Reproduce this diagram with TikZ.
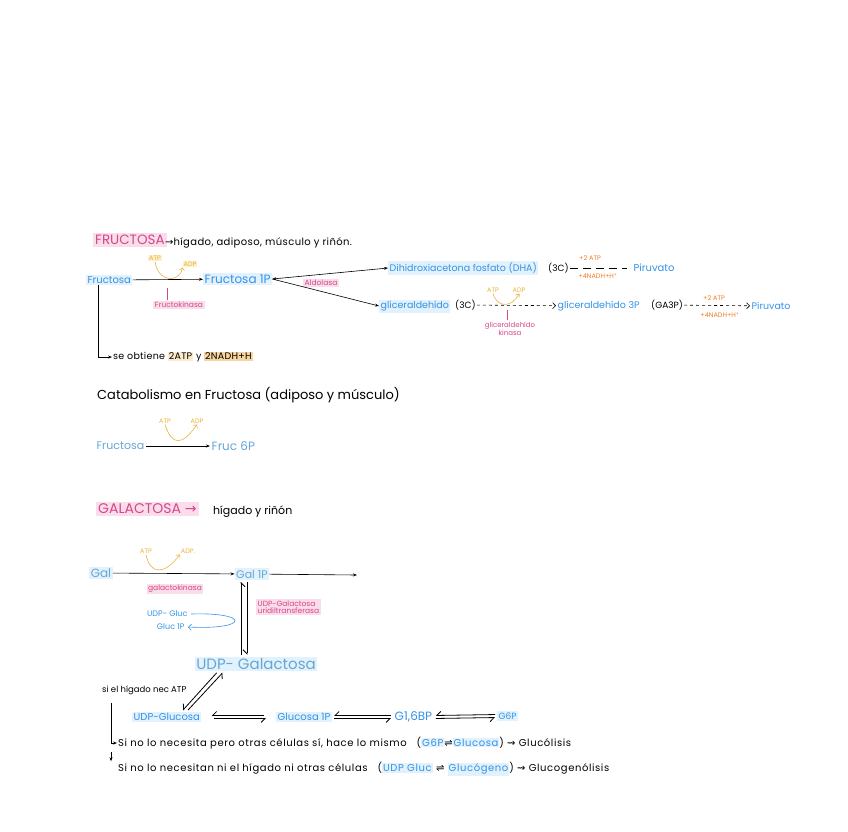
\documentclass[tikz,border=0pt]{standalone}
\usepackage{fontspec}
\setmainfont{Poppins}
\newfontfamily\symfont{DejaVu Sans}
\usetikzlibrary{positioning,arrows.meta}

\definecolor{hblue}{RGB}{52,146,232}
\definecolor{hsoft}{RGB}{102,166,214}
\definecolor{hlblue}{RGB}{226,242,252}
\definecolor{hpink}{RGB}{214,70,138}
\definecolor{hlpink}{RGB}{250,221,234}
\definecolor{hyel}{RGB}{232,180,60}
\definecolor{hlyel}{RGB}{253,240,205}
\definecolor{horan}{RGB}{244,122,32}
\definecolor{hlorl}{RGB}{252,234,204}
\definecolor{hlorg}{RGB}{248,212,160}

\newcommand{\fsz}[1]{\fontsize{#1}{#1}\selectfont}
\newcommand{\hlbox}[2]{{\setlength{\fboxsep}{1pt}\colorbox{#1}{#2}}}
\newcommand{\bluehl}[1]{\hlbox{hlblue}{\textcolor{hblue}{#1}}}

\begin{document}
\begin{tikzpicture}[
  x=1pt, y=-1pt,
  font=\fsz{9},
  met/.style={text=hblue, fill=hlblue, inner sep=1.5pt, font=\fsz{9.5}},
  soft/.style={text=hsoft, inner sep=1.5pt},
  enz/.style={text=hpink, fill=hlpink, inner sep=1.5pt, font=\fsz{7.5}},
  cof/.style={text=hyel, inner sep=1pt, font=\fsz{6.5}},
  gain/.style={text=horan, inner sep=0.5pt, font=\fsz{6.5}},
  note/.style={text=black, inner sep=1pt},
  wide/.style={font=\fsz{10}\addfontfeature{LetterSpace=6}},
  arr/.style={-{Stealth[length=4pt]}, semithick},
  biarr/.style={{Stealth[length=4pt]}-{Stealth[length=4pt]}, semithick},
  darr/.style={dashed, -{Straight Barb[length=3pt]}, semithick},
  cofarr/.style={hyel, semithick, -{Straight Barb[length=2.5pt]}},
  bluearr/.style={hblue, semithick, -{Straight Barb[length=3pt]}},
  harp/.style={-{Straight Barb[right,length=4pt]}, thick, shorten >=2pt, shorten <=2pt}
]
  \useasboundingbox (0,0) rectangle (848,831);

  % fructosa
  \node[enz, font=\fsz{13.5}, inner sep=2pt, anchor=west] (frutitle) at (93,240) {FRUCTOSA};
  \node[note, anchor=west, font=\fsz{10}\addfontfeature{LetterSpace=4}] (fruorg) at (164,243) {{\symfont →}hígado, adiposo, músculo y riñón.};

  \node[met, font=\fsz{10}, anchor=west] (fru) at (86,280) {Fructosa};
  \node[met, font=\fsz{12}, anchor=west] (fru1p) at (203,279) {Fructosa 1P};
  \node[cof, fill=hlyel] (atp1) at (155,258) {ATP};
  \node[cof, fill=hlyel] (adp1) at (190,264) {ADP};
  \node[enz] (fkin) at (179,305) {Fructokinasa};
  \node[enz] (aldol) at (321,283) {Aldolasa};
  \node[met, anchor=west] (dhap) at (388,268) {Dihidroxiacetona fosfato (DHA)};
  \node[note, anchor=west] (c3a) at (547,268) {(3C)};
  \node[met, fill=none, font=\fsz{10}, anchor=west] (pir1) at (632,268) {Piruvato};
  \node[gain] (atp2a) at (590,258) {+2 ATP};
  \node[gain] (nad1) at (598,276) {+4NADH+H\textsuperscript{+}};

  \node[met, anchor=west] (glic) at (379,306) {gliceraldehído};
  \node[note, anchor=west] (c3b) at (454,305) {(3C)};
  \node[cof] (atp3) at (493,290) {ATP};
  \node[cof] (adp3) at (519,290) {ADP};
  \node[enz, fill=none, align=center, font=\fsz{7}] (gkin) at (510,329) {gliceraldehído\\kinasa};
  \node[met, fill=none, anchor=west] (ga3p) at (556,306) {gliceraldehído 3P};
  \node[note, anchor=west] (ga3pab) at (650,305) {(GA3P)};
  \node[gain] (atp2b) at (714,298) {+2 ATP};
  \node[gain] (nad2) at (720,315) {+4NADH+H\textsuperscript{+}};
  \node[met, fill=none, anchor=west] (pir2) at (750,306) {Piruvato};

  \node[note, anchor=west, font=\fsz{9.5}\addfontfeature{LetterSpace=3}] (obt) at (112,357) {se obtiene \hlbox{hlorl}{2ATP} y \hlbox{hlorg}{2NADH+H}};

  \coordinate (fktick) at (167,288);
  \coordinate (gktick) at (507,310);

  \draw[arr] (fru) -- (fru1p);
  \draw[cofarr] (atp1.south) .. controls (158,283) and (180,283) .. (adp1.south west);
  \draw[hpink, semithick] (fktick) -- (fktick |- fkin.north);
  \draw[biarr] (fru1p.east) -- (dhap.west);
  \draw[arr] (fru1p.east) -- (glic.west);
  \draw[dash pattern=on 8pt off 5pt, semithick, shorten >=5pt] (c3a) -- (pir1);
  \draw[darr] (c3b) -- (ga3p);
  \draw[cofarr] (atp3.south) .. controls (497,308) and (512,308) .. (adp3.south);
  \draw[hpink, semithick] (gktick) -- (gktick |- gkin.north);
  \draw[darr] (ga3pab) -- (pir2);
  \draw[arr] ([xshift=12pt]fru.south west) |- (obt.west);

  % catabolismo
  \node[note, anchor=west, font=\fsz{13}] (catab) at (96,395) {Catabolismo en Fructosa (adiposo y músculo)};
  \node[soft, font=\fsz{11}, anchor=west] (fru2) at (95,446) {Fructosa};
  \node[soft, font=\fsz{12}, anchor=west] (fruc6p) at (210,446) {Fruc 6P};
  \node[cof] (atp4) at (165,421) {ATP};
  \node[cof] (adp4) at (197,421) {ADP};
  \draw[arr] (fru2) -- (fruc6p);
  \draw[cofarr] (atp4.south) .. controls (172,446) and (182,446) .. (adp4.south);

  % galactosa
  \node[enz, font=\fsz{14}, inner sep=2pt, anchor=west] (galtitle) at (96,509) {GALACTOSA {\symfont →}};
  \node[note, anchor=west, font=\fsz{11}] (galorg) at (212,512) {hígado y riñón};
  \node[soft, fill=hlblue, font=\fsz{12}] (gal) at (101,573) {Gal};
  \node[soft, fill=hlblue, font=\fsz{11}] (gal1p) at (252,574) {Gal 1P};
  \coordinate (galout) at (357,575);
  \node[cof] (atp5) at (146,551) {ATP};
  \node[cof] (adp5) at (188,551) {ADP.};
  \node[enz] (galkin) at (175,589) {galactokinasa};
  \node[enz, align=left, anchor=west] (uridil) at (256,607) {UDP-Galactosa\\uridiltransferasa};
  \node[text=hblue, font=\fsz{8}, anchor=east] (udpg) at (191,614) {UDP- Gluc};
  \node[text=hblue, font=\fsz{8}, anchor=east] (g1p) at (188,627) {Gluc 1P};
  \node[soft, fill=hlblue, font=\fsz{15}] (udpgal) at (256,664) {UDP- Galactosa};

  \draw[arr] (gal) -- (gal1p);
  \draw[arr] (gal1p) -- (galout);
  \draw[cofarr] (atp5.south) .. controls (150,575) and (165,575) .. (adp5.south west);
  \draw[bluearr] (udpg.east) .. controls (250,612) and (250,630) .. (g1p.east);
  \draw[harp] ([xshift=-15pt]udpgal.north) -- ([xshift=-15pt]udpgal.north |- gal1p.south);
  \draw[harp] ([xshift=-9pt]udpgal.north |- gal1p.south) -- ([xshift=-9pt]udpgal.north);

  \node[note, anchor=west, font=\fsz{8.5}] (hignec) at (101,690) {si el hígado nec ATP};
  \node[met, font=\fsz{10}, anchor=west] (udpglc) at (132,717) {UDP-Glucosa};
  \node[met, font=\fsz{10}, anchor=west] (glc1p) at (276,717) {Glucosa 1P};
  \node[met, fill=none, font=\fsz{12}, anchor=west] (g16bp) at (393,717) {G1,6BP};
  \node[met, font=\fsz{9}, anchor=west] (g6p) at (497,716) {G6P};

  \draw[harp] ([xshift=-38pt]udpgal.south) -- ([xshift=-20pt]udpglc.north east);
  \draw[harp] ([xshift=-15pt]udpglc.north east) -- ([xshift=-32pt]udpgal.south);
  \draw[harp, shorten >=10pt, shorten <=12pt] ([yshift=1.5pt]glc1p.west) -- ([yshift=1.5pt]udpglc.east);
  \draw[harp, shorten >=10pt, shorten <=12pt] ([yshift=-1.5pt]udpglc.east) -- ([yshift=-1.5pt]glc1p.west);
  \draw[harp] ([yshift=1.5pt]g16bp.west) -- ([yshift=1.5pt]glc1p.east);
  \draw[harp] ([yshift=-1.5pt]glc1p.east) -- ([yshift=-1.5pt]g16bp.west);
  \draw[harp] ([yshift=1.5pt]g6p.west) -- ([yshift=1.5pt]g16bp.east);
  \draw[harp] ([yshift=-1.5pt]g16bp.east) -- ([yshift=-1.5pt]g6p.west);

  \coordinate (dn1) at (111,703);
  \coordinate (dn2) at (111,752);
  \node[note, anchor=west, wide] (nota1) at (117,743) {Si no lo necesita pero otras células sí, hace lo mismo\quad(\bluehl{G6P}{\symfont ⇌}\bluehl{Glucosa}) {\symfont ⇝} Glucólisis};
  \node[note, anchor=west, wide] (nota2) at (117,769) {Si no lo necesitan ni el hígado ni otras células\quad(\bluehl{UDP Gluc} {\symfont ⇌} \bluehl{Glucógeno}) {\symfont ⇝} Glucogenólisis};
  \draw[arr] (dn1) |- (nota1.west);
  \draw[arr] (dn2) -- (dn2 |- nota2.north);
\end{tikzpicture}
\end{document}
